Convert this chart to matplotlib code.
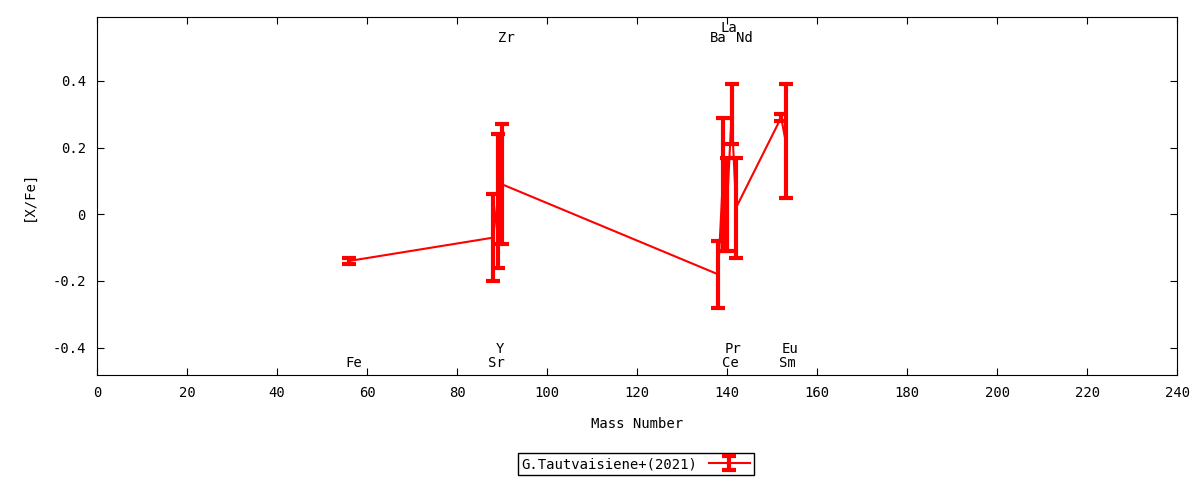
import numpy as np
import matplotlib.pyplot as plt

plt.rcParams['font.family'] = 'DejaVu Sans Mono'
plt.rcParams['font.size'] = 10

# Tautvaisiene+(2021) abundances vs mass number
elements = ["Fe", "Sr", "Y", "Zr", "Ba", "La", "Ce", "Pr", "Nd", "Sm", "Eu"]
mass = [56, 88, 89, 90, 138, 139, 140, 141, 142, 152, 153]
xfe = [-0.14, -0.07, 0.04, 0.09, -0.18, 0.09, 0.03, 0.30, 0.02, 0.29, 0.22]
err = [0.01, 0.13, 0.20, 0.18, 0.10, 0.20, 0.14, 0.09, 0.15, 0.01, 0.17]

# element label positions (x, y)
lab_x = [57.0, 88.7, 89.5, 91.0, 138.0, 140.3, 140.7, 141.4, 143.8, 153.5, 154.0]
lab_y = [-0.446, -0.446, -0.404, 0.530, 0.530, 0.560, -0.446, -0.404, 0.530, -0.446, -0.404]

fig = plt.figure(figsize=[12, 4.8], dpi=100)
ax = fig.add_axes([0.0808, 0.2188, 0.9002, 0.7458])

ax.errorbar(mass, xfe, yerr=err, color="red", lw=1.5, elinewidth=3,
            capsize=5, capthick=3, label="G.Tautvaisiene+(2021)")

for el, lx, ly in zip(elements, lab_x, lab_y):
    ax.text(lx, ly, el, ha="center", va="center")

ax.set_xlim(0, 240)
ax.set_ylim(-0.482, 0.592)
ax.set_xticks(np.arange(0, 241, 20))
ax.set_yticks([-0.4, -0.2, 0, 0.2, 0.4])
ax.set_yticklabels(["-0.4", "-0.2", "0", "0.2", "0.4"])
ax.tick_params(direction="in", top=True, right=True, length=5, pad=8)
ax.set_xlabel("Mass Number", labelpad=12)
ax.set_ylabel("[X/Fe]", labelpad=12)

fig.legend(loc="center", bbox_to_anchor=(0.53, 0.033), markerfirst=False,
           fancybox=False, edgecolor="black", framealpha=1, borderpad=0.3,
           handlelength=3)

plt.savefig("out.png", dpi=100)
